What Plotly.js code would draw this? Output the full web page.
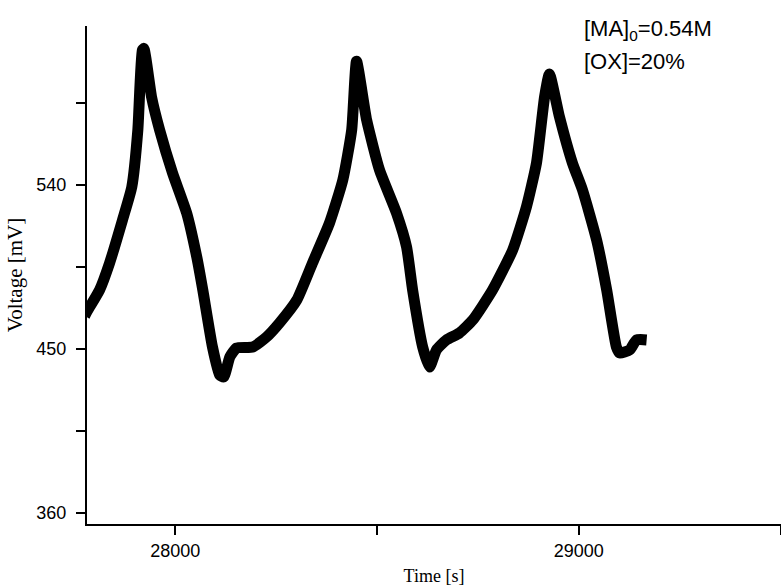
<!DOCTYPE html>
<html>
<head>
<meta charset="utf-8">
<script src="https://cdn.plot.ly/plotly-3.0.1.min.js"></script>
<style>html,body{margin:0;padding:0;background:#fff;}#chart{width:781px;height:588px;}</style>
</head>
<body>
<div id="chart"></div>
<script>
// Time [s]
var time = [27775, 27783, 27812, 27837, 27869, 27892, 27907, 27918, 27922, 27941, 27961, 27993, 28028, 28053, 28068, 28092, 28110, 28120, 28135, 28152, 28192, 28226, 28258, 28301, 28340, 28382, 28415, 28437, 28449, 28474, 28506, 28548, 28573, 28588, 28613, 28630, 28647, 28672, 28704, 28737, 28786, 28836, 28870, 28895, 28915, 28927, 28952, 28984, 29009, 29044, 29069, 29093, 29101, 29126, 29143, 29168];
// Voltage [mV]
var voltage = [468, 471.3, 482.3, 497.2, 520.8, 538.9, 570.2, 614, 615, 588.3, 570.2, 546.6, 524.6, 500.5, 482.3, 451, 435.6, 434.5, 445.5, 450.5, 451, 456.5, 464.2, 476.8, 497.2, 519.1, 542.7, 570.2, 608, 575.7, 548.2, 524.6, 506, 482.3, 451, 440, 449.4, 454.9, 458.7, 465.8, 482.3, 504.3, 527.9, 552.1, 588.3, 601, 577.4, 552.1, 537.3, 509.8, 482.3, 451, 447.7, 449.4, 454.9, 454.9];
// Tick labels
var xTickVals = [28000, 29000];
var xTickText = ['28000', '29000'];
var xMinorVals = [28500, 29500];
var yTickVals = [360, 450, 540];
var yTickText = ['360', '450', '540'];

var trace = {
  x: time, y: voltage, type: 'scatter', mode: 'lines',
  line: {color: '#000000', width: 11, shape: 'spline', smoothing: 0.5},
  hoverinfo: 'skip'
};

var tickFont = {family: 'Liberation Sans, Arial, sans-serif', size: 18, color: '#000'};

var layout = {
  width: 781, height: 588,
  margin: {l: 87, r: 0, t: 26, b: 64, pad: 0},
  paper_bgcolor: '#ffffff', plot_bgcolor: '#ffffff',
  showlegend: false,
  xaxis: {
    range: [27781, 29501],
    tickmode: 'array', tickvals: xTickVals, ticktext: xTickText,
    showgrid: false, zeroline: false,
    showline: true, linecolor: '#000', linewidth: 2, mirror: false,
    ticks: 'outside', ticklen: 9, tickwidth: 2, tickcolor: '#000',
    minor: {tickmode: 'array', tickvals: xMinorVals, ticks: 'outside', ticklen: 9, tickwidth: 2, tickcolor: '#000', showgrid: false},
    tickfont: tickFont,
    title: {text: 'Time [s]', font: {family: 'Liberation Serif, Times New Roman, serif', size: 18, color: '#000'}, standoff: 10}
  },
  yaxis: {
    range: [353.8, 627.3],
    tickmode: 'array', tickvals: yTickVals, ticktext: yTickText,
    showgrid: false, zeroline: false,
    showline: true, linecolor: '#000', linewidth: 2, mirror: false,
    ticks: 'outside', ticklen: 9, tickwidth: 2, tickcolor: '#000',
    minor: {tickmode: 'linear', tick0: 405, dtick: 90, ticks: 'outside', ticklen: 9, tickwidth: 2, tickcolor: '#000', showgrid: false},
    tickfont: tickFont,
    ticklabelstandoff: 6,
    title: {text: 'Voltage [mV]', font: {family: 'Liberation Serif, Times New Roman, serif', size: 21, color: '#000'}, standoff: 8}
  },
  annotations: [
    {xref: 'x', yref: 'y', x: 29009, y: 625, xanchor: 'left', yanchor: 'middle', showarrow: false,
     text: '[MA]<sub>0</sub>=0.54M', font: {family: 'Liberation Sans, Arial, sans-serif', size: 22, color: '#000'}},
    {xref: 'x', yref: 'y', x: 29009, y: 608, xanchor: 'left', yanchor: 'middle', showarrow: false,
     text: '[OX]=20%', font: {family: 'Liberation Sans, Arial, sans-serif', size: 22, color: '#000'}}
  ]
};

Plotly.newPlot('chart', [trace], layout, {displayModeBar: false, staticPlot: true});
</script>
</body>
</html>
